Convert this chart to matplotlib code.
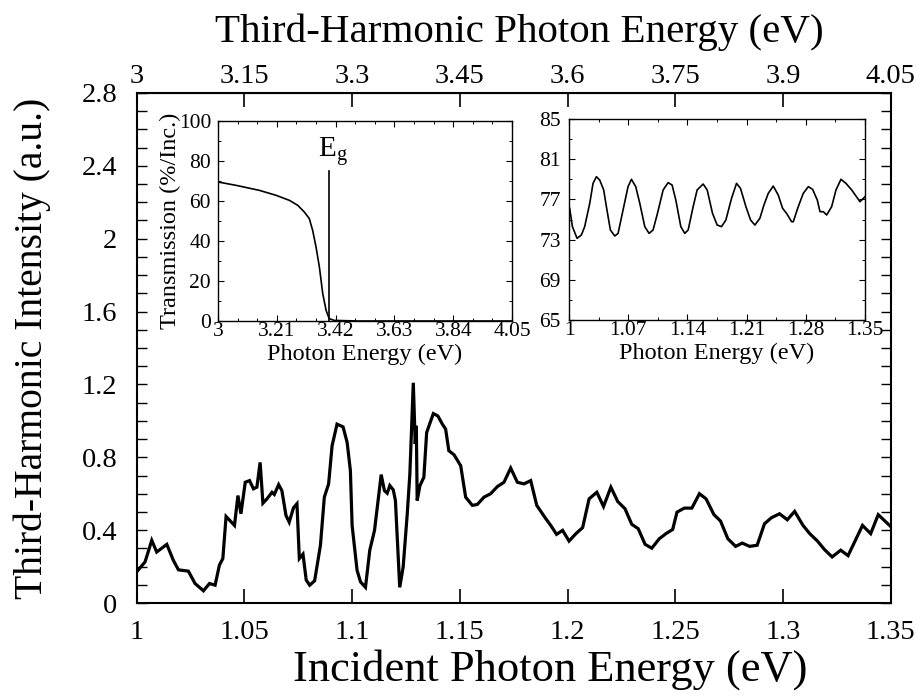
import matplotlib
matplotlib.use("Agg")
import matplotlib.pyplot as plt
from matplotlib.ticker import MultipleLocator, FixedLocator, AutoMinorLocator

plt.rcParams['font.family'] = ['Liberation Serif', 'DejaVu Serif']
plt.rcParams['mathtext.fontset'] = 'custom'
plt.rcParams['mathtext.rm'] = 'Liberation Serif'
plt.rcParams['mathtext.it'] = 'Liberation Serif:italic'

# ---- main curve: incident photon energy (eV) vs third-harmonic intensity (a.u.)
main_x = [1.0, 1.0039, 1.007, 1.0093, 1.014, 1.017, 1.0194, 1.024, 1.0271, 1.031,
          1.0338, 1.0364, 1.0384, 1.04, 1.0415, 1.0454, 1.047, 1.0484, 1.0504, 1.0524,
          1.0542, 1.0558, 1.0573, 1.0586, 1.0605, 1.0628, 1.0639, 1.0659, 1.0674, 1.0693,
          1.0708, 1.0728, 1.0744, 1.0755, 1.0772, 1.0787, 1.0803, 1.0826, 1.0853, 1.0871,
          1.0891, 1.0907, 1.093, 1.0958, 1.0977, 1.0992, 1.1, 1.1023, 1.1039, 1.1062,
          1.1082, 1.1104, 1.1119, 1.1135, 1.115, 1.1163, 1.1175, 1.1191, 1.1201, 1.1221,
          1.1237, 1.1256, 1.1268, 1.1284, 1.1293, 1.1298, 1.1302, 1.1315, 1.1333, 1.1346,
          1.1377, 1.1398, 1.1419, 1.1434, 1.1449, 1.1473, 1.1504, 1.1527, 1.1558, 1.1581,
          1.1612, 1.1643, 1.1674, 1.1705, 1.1736, 1.1767, 1.1798, 1.1829, 1.1857, 1.1899,
          1.1922, 1.1949, 1.1977, 1.2007, 1.2039, 1.207, 1.21, 1.2136, 1.2167, 1.2201,
          1.2233, 1.2267, 1.2298, 1.2328, 1.236, 1.2391, 1.2426, 1.2457, 1.2488, 1.2508,
          1.2542, 1.2577, 1.2612, 1.2643, 1.2679, 1.271, 1.2744, 1.278, 1.2811, 1.2845,
          1.288, 1.2914, 1.2946, 1.2984, 1.302, 1.3054, 1.3093, 1.3124, 1.316, 1.3193,
          1.3228, 1.3268, 1.3302, 1.3336, 1.3369, 1.3407, 1.3442, 1.35]
main_y = [0.171, 0.226, 0.344, 0.28, 0.322, 0.235, 0.182, 0.175, 0.107, 0.067,
          0.107, 0.098, 0.208, 0.244, 0.475, 0.426, 0.59, 0.49, 0.663, 0.672,
          0.627, 0.636, 0.772, 0.548, 0.572, 0.608, 0.596, 0.65, 0.617, 0.481,
          0.444, 0.523, 0.545, 0.244, 0.268, 0.126, 0.098, 0.122, 0.317, 0.581,
          0.654, 0.863, 0.982, 0.967, 0.881, 0.727, 0.426, 0.18, 0.116, 0.086,
          0.29, 0.399, 0.545, 0.705, 0.617, 0.603, 0.645, 0.621, 0.563, 0.086,
          0.198, 0.49, 0.708, 1.209, 0.873, 0.973, 0.563, 0.645, 0.69, 0.936,
          1.04, 1.027, 0.982, 0.955, 0.836, 0.814, 0.754, 0.581, 0.536, 0.541,
          0.581, 0.6, 0.639, 0.663, 0.741, 0.663, 0.654, 0.672, 0.536, 0.463,
          0.426, 0.377, 0.399, 0.34, 0.381, 0.414, 0.572, 0.608, 0.53, 0.636,
          0.557, 0.517, 0.432, 0.408, 0.322, 0.301, 0.353, 0.381, 0.404, 0.499,
          0.521, 0.521, 0.6, 0.572, 0.486, 0.45, 0.353, 0.311, 0.329, 0.311,
          0.317, 0.435, 0.468, 0.49, 0.457, 0.503, 0.426, 0.381, 0.34, 0.293,
          0.253, 0.29, 0.26, 0.344, 0.426, 0.381, 0.485, 0.42]

main_xticks = [1.0, 1.05, 1.1, 1.15, 1.2, 1.25, 1.3, 1.35]
main_xticklabels = ['1', '1.05', '1.1', '1.15', '1.2', '1.25', '1.3', '1.35']
main_yticks = [0, 0.4, 0.8, 1.2, 1.6, 2.0, 2.4, 2.8]
main_yticklabels = ['0', '0.4', '0.8', '1.2', '1.6', '2', '2.4', '2.8']
top_ticks = [3.0, 3.15, 3.3, 3.45, 3.6, 3.75, 3.9, 4.05]
top_ticklabels = ['3', '3.15', '3.3', '3.45', '3.6', '3.75', '3.9', '4.05']

# ---- inset 1: transmission vs photon energy
trans_x = [3.0, 3.065, 3.148, 3.208, 3.255, 3.285, 3.308, 3.326, 3.338, 3.35,
           3.362, 3.374, 3.386, 3.397, 3.415, 3.5, 3.7, 3.9, 4.05]
trans_y = [69.5, 67.8, 65.3, 62.8, 60.3, 57.8, 54.5, 51.2, 45.3, 37.0,
           27.0, 13.7, 5.3, 1.2, 0.3, 0.0, 0.0, 0.0, 0.0]
eg_x = 3.397
eg_top = 75.0
inset1_xticks = [3.0, 3.21, 3.42, 3.63, 3.84, 4.05]
inset1_xticklabels = ['3', '3.21', '3.42', '3.63', '3.84', '4.05']
inset1_yticks = [0, 20, 40, 60, 80, 100]

# ---- inset 2: oscillating trace
osc_x = [1.0008, 1.004, 1.0095, 1.0146, 1.0185, 1.0245, 1.0284, 1.0324, 1.0363, 1.041,
         1.0442, 1.0489, 1.0541, 1.058, 1.0639, 1.0698, 1.0738, 1.0789, 1.0837, 1.0896,
         1.0947, 1.0994, 1.1046, 1.1113, 1.1172, 1.1219, 1.1263, 1.1322, 1.1369, 1.1409,
         1.1468, 1.1515, 1.1586, 1.1634, 1.1697, 1.1752, 1.1803, 1.1855, 1.1922, 1.1981,
         1.2028, 1.2092, 1.2147, 1.2198, 1.2257, 1.2305, 1.2356, 1.2415, 1.2474, 1.2526,
         1.2573, 1.2632, 1.2652, 1.2711, 1.277, 1.283, 1.2881, 1.2936, 1.2968, 1.3007,
         1.3047, 1.3106, 1.3157, 1.3216, 1.3275, 1.3343, 1.3441, 1.35]
osc_y = [76.11, 74.29, 73.13, 73.46, 74.29, 76.6, 78.6, 79.26, 78.93, 77.94,
         76.28, 73.96, 73.36, 73.62, 75.95, 78.27, 79.0, 78.27, 76.61, 74.29,
         73.62, 73.96, 75.61, 77.94, 78.67, 78.43, 76.94, 74.29, 73.62, 73.96,
         76.28, 77.94, 78.53, 77.94, 75.61, 74.45, 74.29, 74.95, 77.11, 78.6,
         78.1, 76.28, 74.95, 74.45, 75.12, 76.44, 77.6, 78.33, 77.44, 76.11,
         75.61, 74.78, 74.78, 76.28, 77.6, 78.27, 78.0, 76.94, 75.78, 75.78,
         75.45, 76.28, 77.94, 79.0, 78.6, 77.94, 76.77, 77.27]
inset2_xticks = [1.0, 1.07, 1.14, 1.21, 1.28, 1.35]
inset2_xticklabels = ['1', '1.07', '1.14', '1.21', '1.28', '1.35']
inset2_yticks = [65, 69, 73, 77, 81, 85]

fig = plt.figure(figsize=(9.16, 6.96), dpi=100)

# Main axes
ax = fig.add_axes([0.1492, 0.1336, 0.8232, 0.7328])
ax.plot(main_x, main_y, color='black', lw=2.3, solid_joinstyle='miter')
ax.set_xlim(1.0, 1.35)
ax.set_ylim(0, 2.8)
ax.xaxis.set_major_locator(FixedLocator(main_xticks))
ax.set_xticklabels(main_xticklabels)
ax.yaxis.set_major_locator(FixedLocator(main_yticks))
ax.set_yticklabels(main_yticklabels)
ax.yaxis.set_minor_locator(MultipleLocator(0.1))
ax.tick_params(axis='x', which='major', direction='in', length=10, width=1.2,
               labelsize=20.5, pad=12, bottom=True, top=False)
ax.tick_params(axis='y', which='both', direction='in', length=7, width=1.0,
               labelsize=20.5, pad=14, left=True, right=True)
for sp in ax.spines.values():
    sp.set_linewidth(1.5)
ax.set_xlabel('Incident Photon Energy (eV)', fontsize=32, labelpad=4)
ax.xaxis.set_label_coords(0.548, -0.09)
ax.set_ylabel('Third-Harmonic Intensity (a.u.)', fontsize=28.5, labelpad=22)

sec = ax.secondary_xaxis('top', functions=(lambda v: v * 3.0, lambda v: v / 3.0))
sec.xaxis.set_major_locator(FixedLocator(top_ticks))
sec.set_xticklabels(top_ticklabels)
sec.tick_params(axis='x', direction='in', length=10, width=1.2, labelsize=20.5, pad=3)
sec.set_xlabel('Third-Harmonic Photon Energy (eV)', fontsize=29.5, labelpad=16)
sec.xaxis.label.set_x(0.508)

# Inset 1
ax1 = fig.add_axes([0.238, 0.5388, 0.321, 0.2874])
ax1.plot(trans_x, trans_y, color='black', lw=1.2)
ax1.plot([eg_x, eg_x], [0, eg_top], color='black', lw=1.2)
ax1.text(eg_x + 0.015, eg_top + 1.5, r'$\mathrm{E_g}$', fontsize=21, ha='center', va='bottom')
ax1.set_xlim(3.0, 4.05)
ax1.set_ylim(0, 100)
ax1.xaxis.set_major_locator(FixedLocator(inset1_xticks))
ax1.set_xticklabels(inset1_xticklabels)
ax1.yaxis.set_major_locator(FixedLocator(inset1_yticks))
ax1.xaxis.set_minor_locator(AutoMinorLocator(3))
ax1.yaxis.set_minor_locator(AutoMinorLocator(2))
ax1.tick_params(which='major', direction='in', length=4, width=0.8, labelsize=15.5,
                top=True, right=True)
ax1.tick_params(axis='x', which='major', pad=1)
ax1.tick_params(axis='y', which='major', pad=5)
ax1.tick_params(which='minor', direction='in', length=2, width=0.7, top=True, right=True)
ax1.set_xlabel('Photon Energy (eV)', fontsize=17.5, labelpad=2)
ax1.set_ylabel('Transmission (%/Inc.)', fontsize=17.5, labelpad=-2)
for sp in ax1.spines.values():
    sp.set_linewidth(1.0)

# Inset 2
ax2 = fig.add_axes([0.6212, 0.5402, 0.3231, 0.2888])
ax2.plot(osc_x, osc_y, color='black', lw=1.2)
ax2.set_xlim(1.0, 1.35)
ax2.set_ylim(65, 85)
ax2.xaxis.set_major_locator(FixedLocator(inset2_xticks))
ax2.set_xticklabels(inset2_xticklabels)
ax2.yaxis.set_major_locator(FixedLocator(inset2_yticks))
ax2.xaxis.set_minor_locator(AutoMinorLocator(2))
ax2.yaxis.set_minor_locator(AutoMinorLocator(2))
ax2.tick_params(which='major', direction='in', length=4, width=0.8, labelsize=15.5,
                top=True, right=True)
ax2.tick_params(axis='x', which='major', pad=1)
ax2.tick_params(axis='y', which='major', pad=6)
ax2.tick_params(which='minor', direction='in', length=2, width=0.7, top=True, right=True)
ax2.set_xlabel('Photon Energy (eV)', fontsize=17.5, labelpad=2)
for sp in ax2.spines.values():
    sp.set_linewidth(1.0)

fig.savefig('out.png', dpi=100)
